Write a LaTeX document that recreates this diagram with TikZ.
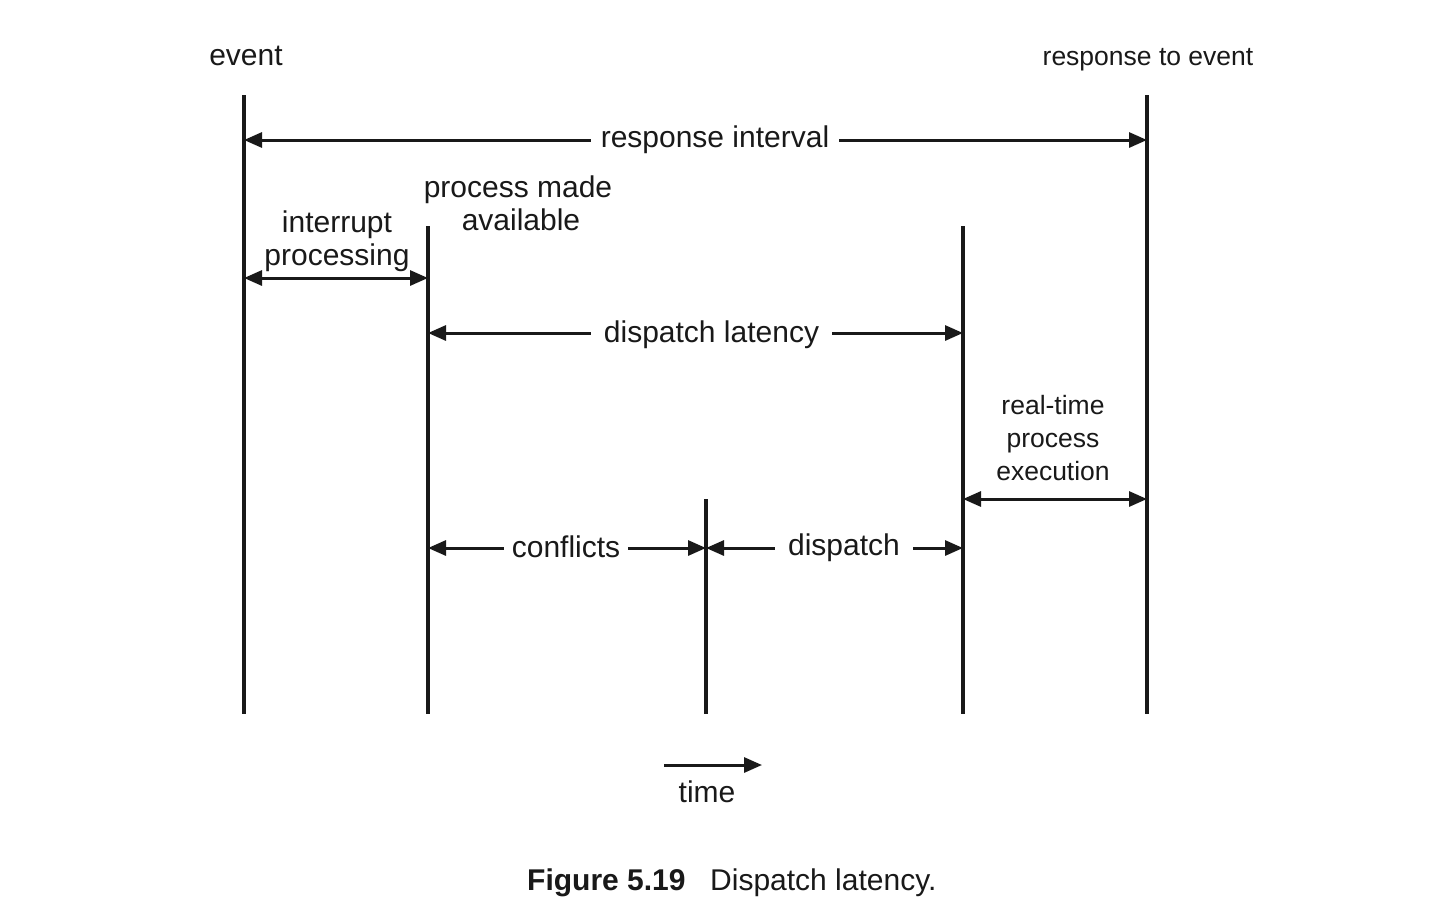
\documentclass[tikz,border=0pt]{standalone}
\usepackage{fontspec}
\setmainfont{Liberation Sans}
\usetikzlibrary{arrows.meta}
\begin{document}
\begin{tikzpicture}[x=1pt,y=-1pt,
  tip/.tip={Triangle[length=18pt 0 0,width=15pt 0 0]},
  vline/.style={line width=3.6pt,black!90},
  dimline/.style={line width=3pt,black!90,-tip},
  twoline/.style={line width=3pt,black!90,tip-tip},
  bigtxt/.style={font=\fontsize{30}{34}\selectfont,inner sep=0pt,anchor=base,text=black!90},
  smalltxt/.style={font=\fontsize{26.5}{30}\selectfont,inner sep=0pt,anchor=base,text=black!90},
  lbl/.style={font=\fontsize{30}{34}\selectfont,inner ysep=0pt,anchor=base,text=black!90}]
\fill[white] (0,0) rectangle (1432,914);
\useasboundingbox (0,0) rectangle (1432,914);

% vertical time lines
\coordinate (e1) at (244,95);  \coordinate (e2) at (244,714);
\coordinate (p1) at (428,226); \coordinate (p2) at (428,714);
\coordinate (c1) at (706,499); \coordinate (c2) at (706,714);
\coordinate (d1) at (963,226); \coordinate (d2) at (963,714);
\coordinate (r1) at (1147,95); \coordinate (r2) at (1147,714);
\draw[vline] (e1) -- (e2);
\draw[vline] (p1) -- (p2);
\draw[vline] (c1) -- (c2);
\draw[vline] (d1) -- (d2);
\draw[vline] (r1) -- (r2);

% top labels
\node[bigtxt] (ev) at (246,65) {event};
\node[smalltxt] (rte) at (1148,65) {response to event};

% response interval
\coordinate (riL) at (244,140); \coordinate (riR) at (1147,140);
\node[lbl,inner xsep=10pt] (ri) at (715,147) {response interval};
\draw[dimline] (ri.west |- riL) -- (riL);
\draw[dimline] (ri.east |- riR) -- (riR);

% interrupt processing
\node[bigtxt] (ip1) at (337,232) {interrupt};
\node[bigtxt] (ip2) at (337,265) {processing};
\coordinate (ipL) at (244,278); \coordinate (ipR) at (428,278);
\draw[twoline] (ipL) -- (ipR);

% process made available
\node[bigtxt] (pm1) at (518,197) {process made};
\node[bigtxt] (pm2) at (521,230) {available};

% dispatch latency
\coordinate (dlL) at (428,333); \coordinate (dlR) at (963,333);
\node[lbl,inner xsep=13pt] (dl) at (711.5,342) {dispatch latency};
\draw[dimline] (dl.west |- dlL) -- (dlL);
\draw[dimline] (dl.east |- dlR) -- (dlR);

% real-time process execution
\node[smalltxt] (rt1) at (1053,414) {real-time};
\node[smalltxt] (rt2) at (1053,447) {process};
\node[smalltxt] (rt3) at (1053,480) {execution};
\coordinate (rtL) at (963,499); \coordinate (rtR) at (1147,499);
\draw[twoline] (rtL) -- (rtR);

% conflicts
\coordinate (cfL) at (428,548); \coordinate (cfR) at (706,548);
\node[lbl,inner xsep=8pt] (cf) at (566,557) {conflicts};
\draw[dimline] (cf.west |- cfL) -- (cfL);
\draw[dimline] (cf.east |- cfR) -- (cfR);

% dispatch
\coordinate (dsL) at (706,548); \coordinate (dsR) at (963,548);
\node[lbl,inner xsep=13pt] (ds) at (844,555) {dispatch};
\draw[dimline] (ds.west |- dsL) -- (dsL);
\draw[dimline] (ds.east |- dsR) -- (dsR);

% time arrow
\coordinate (tL) at (664,765); \coordinate (tR) at (762,765);
\draw[dimline] (tL) -- (tR);
\node[bigtxt] (tm) at (707,802) {time};

% caption
\node[bigtxt,anchor=base west] (fig) at (527,890) {\bfseries Figure 5.19};
\node[bigtxt,anchor=base west] (cap) at (710,890) {Dispatch latency.};
\end{tikzpicture}
\end{document}
